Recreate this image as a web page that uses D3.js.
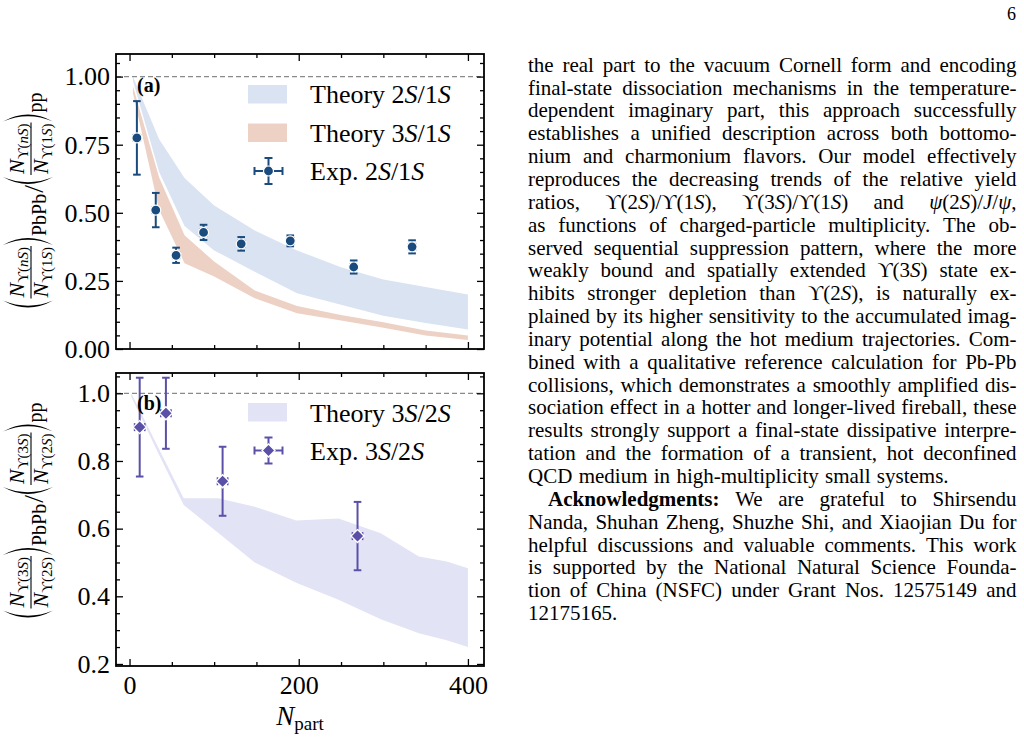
<!DOCTYPE html>
<html><head><meta charset="utf-8">
<script src="https://cdn.jsdelivr.net/npm/d3@7"></script>
<style>body{margin:0;background:#fff} svg{display:block}</style>
</head><body><svg id="c" width="1024" height="740"></svg>
<script>
// ---------------- DATA ----------------
// Panel (a) theory bands (N_part grid and band edges)
const nThA = [4, 35, 65, 100, 148, 198, 250, 300, 350, 400];
const th21Up = [1.0, 0.77, 0.628, 0.527, 0.435, 0.362, 0.30, 0.255, 0.228, 0.20];
const th21Lo = [0.985, 0.65, 0.452, 0.362, 0.284, 0.205, 0.162, 0.122, 0.095, 0.072];
const th31Up = [0.965, 0.63, 0.418, 0.321, 0.215, 0.158, 0.125, 0.098, 0.068, 0.05];
const th31Lo = [0.94, 0.51, 0.315, 0.266, 0.186, 0.131, 0.105, 0.078, 0.05, 0.033];
// Panel (a) experimental 2S/1S
const nExpA = [8.7, 31, 55, 87.5, 132, 190, 265, 334];
const rExpA = [0.775, 0.51, 0.344, 0.428, 0.386, 0.397, 0.301, 0.375];
const eExpA = [0.135, 0.063, 0.028, 0.028, 0.025, 0.02, 0.024, 0.024];
const xeExpA = [4, 4, 4, 4, 4, 4, 4, 4];
// Panel (b) theory band 3S/2S
const nThB = [2, 35, 64, 105, 148, 197, 247, 297, 342, 375, 400];
const th32Up = [1.0, 0.835, 0.69, 0.69, 0.665, 0.624, 0.630, 0.586, 0.518, 0.503, 0.483];
const th32Lo = [0.99, 0.818, 0.67, 0.587, 0.50, 0.44, 0.39, 0.332, 0.291, 0.27, 0.25];
// Panel (b) experimental 3S/2S
const nExpB = [12, 43, 110, 269.5];
const rExpB = [0.90, 0.941, 0.74, 0.578];
const eExpB = [0.146, 0.105, 0.102, 0.101];
const xeExpB = [6, 6, 6, 6];
// Ticks
const xMajor = [0, 200, 400];
const xMinor = [50, 100, 150, 250, 300, 350];
const yMajorA = [0, 0.25, 0.5, 0.75, 1.0];
const yMajorB = [0.2, 0.4, 0.6, 0.8, 1.0];
// Page text
const pageLines = [
 "the real part to the vacuum Cornell form and encoding",
 "final-state dissociation mechanisms in the temperature-",
 "dependent imaginary part, this approach successfully",
 "establishes a unified description across both bottomo-",
 "nium and charmonium flavors. Our model effectively",
 "reproduces the decreasing trends of the relative yield",
 "ratios, ϒ(2_S_)/ϒ(1_S_), ϒ(3_S_)/ϒ(1_S_) and _ψ_(2_S_)/_J_/_ψ_,",
 "as functions of charged-particle multiplicity. The ob-",
 "served sequential suppression pattern, where the more",
 "weakly bound and spatially extended ϒ(3_S_) state ex-",
 "hibits stronger depletion than ϒ(2_S_), is naturally ex-",
 "plained by its higher sensitivity to the accumulated imag-",
 "inary potential along the hot medium trajectories. Com-",
 "bined with a qualitative reference calculation for Pb-Pb",
 "collisions, which demonstrates a smoothly amplified dis-",
 "sociation effect in a hotter and longer-lived fireball, these",
 "results strongly support a final-state dissipative interpre-",
 "tation and the formation of a transient, hot deconfined",
 "QCD medium in high-multiplicity small systems.",
 "*Acknowledgments:* We are grateful to Shirsendu",
 "Nanda, Shuhan Zheng, Shuzhe Shi, and Xiaojian Du for",
 "helpful discussions and valuable comments. This work",
 "is supported by the National Natural Science Founda-",
 "tion of China (NSFC) under Grant Nos. 12575149 and",
 "12175165."
];

// ---------------- DRAW ----------------
const svg = d3.select("#c");
const SERIF = "'Liberation Serif','Times New Roman',serif";
const C_BLUE = "#1a4b7e", C_BAND_B = "#dae3f1", C_BAND_O = "#edd1c5";
const C_PUR = "#5a50a8", C_BAND_P = "#e3e3f6";

const x = d3.scaleLinear().domain([-16, 419]).range([116, 484]);
const yA = d3.scaleLinear().domain([0, 1.083]).range([349, 54]);
const yB = d3.scaleLinear().domain([0.194, 1.06]).range([666, 373]);

function band(nArr, lo, up, y, color) {
  const area = d3.area().x((d, i) => x(nArr[i])).y0((d, i) => y(lo[i])).y1((d, i) => y(up[i]));
  svg.append("path").datum(nArr).attr("d", area).attr("fill", color).attr("stroke", "none");
}

function dashed(y) {
  svg.append("line").attr("x1", x.range()[0]).attr("x2", x.range()[1])
    .attr("y1", y(1)).attr("y2", y(1)).attr("stroke", "#8a8a8a")
    .attr("stroke-width", 1.3).attr("stroke-dasharray", "5,3");
}

function errPoints(nArr, r, e, xe, y, color, shape) {
  const g = svg.append("g");
  nArr.forEach((n, i) => {
    const px = x(n), py = y(r[i]);
    const yt = y(r[i] + e[i]), yb = y(r[i] - e[i]);
    const xl = x(n - xe[i]), xr = x(n + xe[i]);
    g.append("line").attr("x1", px).attr("x2", px).attr("y1", yt).attr("y2", yb).attr("stroke", color).attr("stroke-width", 2);
    [yt, yb].forEach(yy => g.append("line").attr("x1", px - 3.8).attr("x2", px + 3.8).attr("y1", yy).attr("y2", yy).attr("stroke", color).attr("stroke-width", 2));
    g.append("line").attr("x1", xl).attr("x2", xr).attr("y1", py).attr("y2", py).attr("stroke", color).attr("stroke-width", 1.6);
    [xl, xr].forEach(xx => g.append("line").attr("x1", xx).attr("x2", xx).attr("y1", py - 4).attr("y2", py + 4).attr("stroke", color).attr("stroke-width", 1.6));
    marker(g, px, py, color, shape);
  });
}

function marker(g, px, py, color, shape) {
  if (shape === "circle") {
    g.append("circle").attr("cx", px).attr("cy", py).attr("r", 5).attr("fill", color).attr("stroke", "#fff").attr("stroke-width", 1.2);
  } else {
    const s = 6.5;
    g.append("path").attr("d", `M${px},${py - s} L${px + s},${py} L${px},${py + s} L${px - s},${py} Z`)
      .attr("fill", color).attr("stroke", "#fff").attr("stroke-width", 1.3);
  }
}

function frame(y, yMajor, yFmt, showXLabels) {
  const [yb, yt] = y.range();
  const [xl, xr] = x.range();
  const yDom = y.domain();
  const yMinor = d3.range(0, 1.0501, 0.05).filter(v => v >= yDom[0] && v <= yDom[1] && !yMajor.some(m => Math.abs(m - v) < 1e-6));
  const g = svg.append("g").attr("font-family", SERIF);
  const mk = (axis, tr, vals, size, fmt, pad) => {
    const a = g.append("g").attr("transform", tr)
      .call(axis.tickValues(vals).tickSizeInner(-size).tickSizeOuter(0).tickPadding(pad).tickFormat(fmt));
    a.select(".domain").remove();
    a.selectAll(".tick line").attr("stroke", "#000").attr("stroke-width", 1.3);
    a.selectAll(".tick text").attr("fill", "#000").attr("font-size", 26).attr("font-family", SERIF);
    return a;
  };
  mk(d3.axisLeft(y), `translate(${xl},0)`, yMajor, 7, yFmt, 6);
  mk(d3.axisLeft(y), `translate(${xl},0)`, yMinor, 4, () => "", 6);
  mk(d3.axisRight(y), `translate(${xr},0)`, yMajor, 7, () => "", 6);
  mk(d3.axisRight(y), `translate(${xr},0)`, yMinor, 4, () => "", 6);
  mk(d3.axisBottom(x), `translate(0,${yb})`, xMajor, 7, showXLabels ? d3.format("d") : () => "", 10);
  mk(d3.axisBottom(x), `translate(0,${yb})`, xMinor, 4, () => "", 10);
  mk(d3.axisTop(x), `translate(0,${yt})`, xMajor, 7, () => "", 6);
  mk(d3.axisTop(x), `translate(0,${yt})`, xMinor, 4, () => "", 6);
  g.append("rect").attr("x", xl).attr("y", yt).attr("width", xr - xl).attr("height", yb - yt)
    .attr("fill", "none").attr("stroke", "#000").attr("stroke-width", 1.8);
}

function rich(textSel, str) {
  const parts = str.split(/([_*])/);
  let it = false, bd = false;
  parts.forEach(p => {
    if (p === "_") { it = !it; return; }
    if (p === "*") { bd = !bd; return; }
    if (!p) return;
    textSel.append("tspan").text(p).attr("font-style", it ? "italic" : "normal").attr("font-weight", bd ? "bold" : "normal");
  });
}

function legendText(x0, yb, str) {
  const t = svg.append("text").attr("x", x0).attr("y", yb).attr("font-family", SERIF).attr("font-size", 26).attr("fill", "#000");
  rich(t, str);
}

function legendMarker(cx, cy, color, shape) {
  const g = svg.append("g");
  g.append("line").attr("x1", cx - 14).attr("x2", cx + 14).attr("y1", cy).attr("y2", cy).attr("stroke", color).attr("stroke-width", 2);
  g.append("line").attr("x1", cx).attr("x2", cx).attr("y1", cy - 13).attr("y2", cy + 13).attr("stroke", color).attr("stroke-width", 2);
  [-14, 14].forEach(d => g.append("line").attr("x1", cx + d).attr("x2", cx + d).attr("y1", cy - 4).attr("y2", cy + 4).attr("stroke", color).attr("stroke-width", 2));
  [-13, 13].forEach(d => g.append("line").attr("x1", cx - 4).attr("x2", cx + 4).attr("y1", cy + d).attr("y2", cy + d).attr("stroke", color).attr("stroke-width", 2));
  marker(g, cx, cy, color, shape);
}

function yLabel(cx, cy, numS, denS) {
  const g = svg.append("g").attr("transform", `translate(${cx},${cy}) rotate(-90)`).attr("font-family", SERIF).attr("fill", "#000");
  const inner = g.append("g");
  let u = 0;
  const fs = 22, ss = 15;
  function paren(open) {
    const w = 7, t = -28, b = 22, m = (t + b) / 2;
    let d;
    if (open) d = `M${u + w},${t} Q${u - w},${m} ${u + w},${b} Q${u - w + 3.6},${m} ${u + w},${t} Z`;
    else d = `M${u},${t} Q${u + 2 * w},${m} ${u},${b} Q${u + 2 * w - 3.6},${m} ${u},${t} Z`;
    inner.append("path").attr("d", d).attr("fill", "#000");
    u += w + 2;
  }
  function fracPart(yy, sub) {
    const t = inner.append("text").attr("y", yy).attr("font-size", fs);
    t.append("tspan").text("N").attr("font-style", "italic");
    t.append("tspan").text("ϒ(").attr("font-size", ss).attr("dy", 4);
    t.append("tspan").text(sub[0]).attr("font-size", ss).attr("font-style", sub[0] === "n" ? "italic" : "normal");
    t.append("tspan").text("S").attr("font-size", ss).attr("font-style", "italic");
    t.append("tspan").text(")").attr("font-size", ss);
    return t;
  }
  function frac(a, b) {
    const tn = fracPart(-7, a), td = fracPart(17, b);
    const wn = tn.node().getComputedTextLength(), wd = td.node().getComputedTextLength();
    const W = Math.max(wn, wd) + 2;
    tn.attr("x", u + (W - wn) / 2);
    td.attr("x", u + (W - wd) / 2);
    inner.append("line").attr("x1", u).attr("x2", u + W).attr("y1", 0).attr("y2", 0).attr("stroke", "#000").attr("stroke-width", 1.1);
    u += W + 1;
  }
  function txt(s, size, yy, gap) {
    const t = inner.append("text").attr("x", u).attr("y", yy).attr("font-size", size).text(s);
    u += t.node().getComputedTextLength() + gap;
  }
  paren(true); frac(numS, denS); paren(false);
  txt("PbPb", 20, 15, 1);
  txt("/", 28, 12, 1);
  paren(true); frac(numS, denS); paren(false);
  txt("pp", 20, 11, 0);
  inner.attr("transform", `translate(${-u / 2},0)`);
}

// Panel (a)
band(nThA, th21Lo, th21Up, yA, C_BAND_B);
band(nThA, th31Lo, th31Up, yA, C_BAND_O);
dashed(yA);
errPoints(nExpA, rExpA, eExpA, xeExpA, yA, C_BLUE, "circle");
frame(yA, yMajorA, d3.format(".2f"), false);
svg.append("text").attr("x", 137).attr("y", 92).attr("font-family", SERIF).attr("font-weight", "bold").attr("font-size", 20).text("(a)");
svg.append("rect").attr("x", 248).attr("y", 85).attr("width", 39).attr("height", 18.5).attr("fill", C_BAND_B);
svg.append("rect").attr("x", 248).attr("y", 123.5).attr("width", 39).attr("height", 18.5).attr("fill", C_BAND_O);
legendText(310, 103, "Theory 2_S_/1_S_");
legendText(310, 141.5, "Theory 3_S_/1_S_");
legendMarker(268.5, 171, C_BLUE, "circle");
legendText(310, 180, "Exp. 2_S_/1_S_");
yLabel(31, 200, "n", "1");

// Panel (b)
band(nThB, th32Lo, th32Up, yB, C_BAND_P);
dashed(yB);
errPoints(nExpB, rExpB, eExpB, xeExpB, yB, C_PUR, "diamond");
frame(yB, yMajorB, d3.format(".1f"), true);
svg.append("text").attr("x", 137).attr("y", 410).attr("font-family", SERIF).attr("font-weight", "bold").attr("font-size", 20).text("(b)");
svg.append("rect").attr("x", 248).attr("y", 403).attr("width", 39).attr("height", 18.5).attr("fill", C_BAND_P);
legendText(310, 421.5, "Theory 3_S_/2_S_");
legendMarker(268.5, 450.5, C_PUR, "diamond");
legendText(310, 460, "Exp. 3_S_/2_S_");
yLabel(31, 510, "3", "2");

// x label
const xl = svg.append("text").attr("x", 300).attr("y", 725).attr("text-anchor", "middle").attr("font-family", SERIF).attr("fill", "#000");
xl.append("tspan").text("N").attr("font-style", "italic").attr("font-size", 27);
xl.append("tspan").text("part").attr("font-size", 19).attr("dy", 5);

// page number
svg.append("text").attr("x", 1016).attr("y", 20).attr("text-anchor", "end").attr("font-family", SERIF).attr("font-size", 18).text("6");

// paragraph text (justified)
const TX0 = 528, TX1 = 1016.5, BASE0 = 71.7, LH = 22.85, TFS = 21;
const noJust = new Set([18, 24]);
const indent = { 19: 20 };
pageLines.forEach((line, i) => {
  const g = svg.append("g").attr("font-family", SERIF).attr("font-size", TFS).attr("fill", "#000");
  const words = line.split(" ");
  const yb = BASE0 + i * LH;
  const start = TX0 + (indent[i] || 0);
  const ts = words.map(w => { const t = g.append("text").attr("y", yb); rich(t, w); return t; });
  const ws = ts.map(t => t.node().getComputedTextLength());
  const sum = d3.sum(ws);
  const gap = noJust.has(i) ? TFS * 0.3 : (TX1 - start - sum) / (words.length - 1);
  let cx = start;
  ts.forEach((t, k) => { t.attr("x", cx); cx += ws[k] + gap; });
});
</script></body></html>
